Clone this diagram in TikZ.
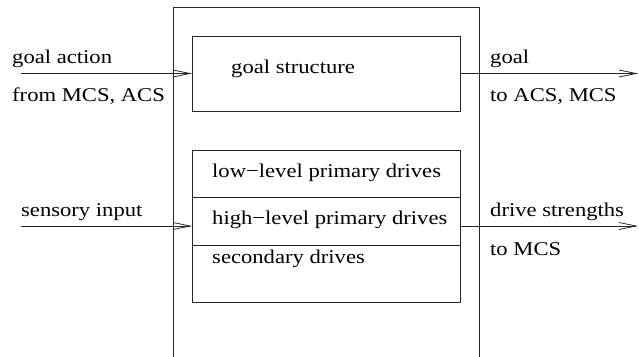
\documentclass[tikz,border=0pt]{standalone}
\usepackage{fontspec}
\setmainfont{Liberation Serif}
\newfontfamily\tmsfont{Liberation Serif}
\usetikzlibrary{arrows.meta}
\newcommand{\wtext}[1]{\scalebox{1.16}[1]{#1}}
\begin{document}
\begin{tikzpicture}[x=1pt,y=-1pt,
  line/.style={draw=black!85, line width=0.8pt},
  box/.style={line, rectangle, inner sep=0pt, outer sep=0pt, anchor=north west},
  arr/.style={line, -{Straight Barb[length=17pt,width=7pt,line width=0.8pt]}},
  lbl/.style={anchor=base west, inner sep=0pt, font=\tmsfont\fontsize{19.5}{21}\selectfont}]
\useasboundingbox (0,0) rectangle (639,356);
% outer module frame (open at the bottom)
\draw[line] (173,357) -- (173,7) -- (479,7) -- (479,357);
% inner boxes
\node[box, minimum width=268.7pt, minimum height=75pt] (gs) at (192,36) {};
\node[box, minimum width=268.7pt, minimum height=47.7pt] (low) at (192,150) {};
\node[box, minimum width=268.7pt, minimum height=47.6pt] (high) at (192,197.7) {};
\node[box, minimum width=268.7pt, minimum height=56.7pt] (sec) at (192,245.3) {};
% box texts
\node[lbl] (tgs) at (231,73) {\wtext{goal structure}};
\node[lbl] (tlow) at (212,177) {\wtext{low−level primary drives}};
\node[lbl] (thigh) at (212,224.5) {\wtext{high−level primary drives}};
\node[lbl] (tsec) at (212,263) {\wtext{secondary drives}};
% connector ends
\coordinate (ga) at (21,73.5);
\coordinate (gout) at (638,73.5);
\coordinate (si) at (21,226);
\coordinate (dout) at (638,226);
% connectors
\draw[arr] (ga) -- (gs.west);
\draw[arr] (gs.east) -- (gout);
\draw[arr] (si) -- (si -| high.west);
\draw[arr] (si -| high.east) -- (dout);
% connector labels
\node[lbl] (l1) at (12,63) {\wtext{goal action}};
\node[lbl] (l2) at (12,101) {\wtext{from MCS, ACS}};
\node[lbl] (l3) at (490,63) {\wtext{goal}};
\node[lbl] (l4) at (490,101) {\wtext{to ACS, MCS}};
\node[lbl] (l5) at (21,216.5) {\wtext{sensory input}};
\node[lbl] (l6) at (490,216.5) {\wtext{drive strengths}};
\node[lbl] (l7) at (490,255) {\wtext{to MCS}};
\end{tikzpicture}
\end{document}
